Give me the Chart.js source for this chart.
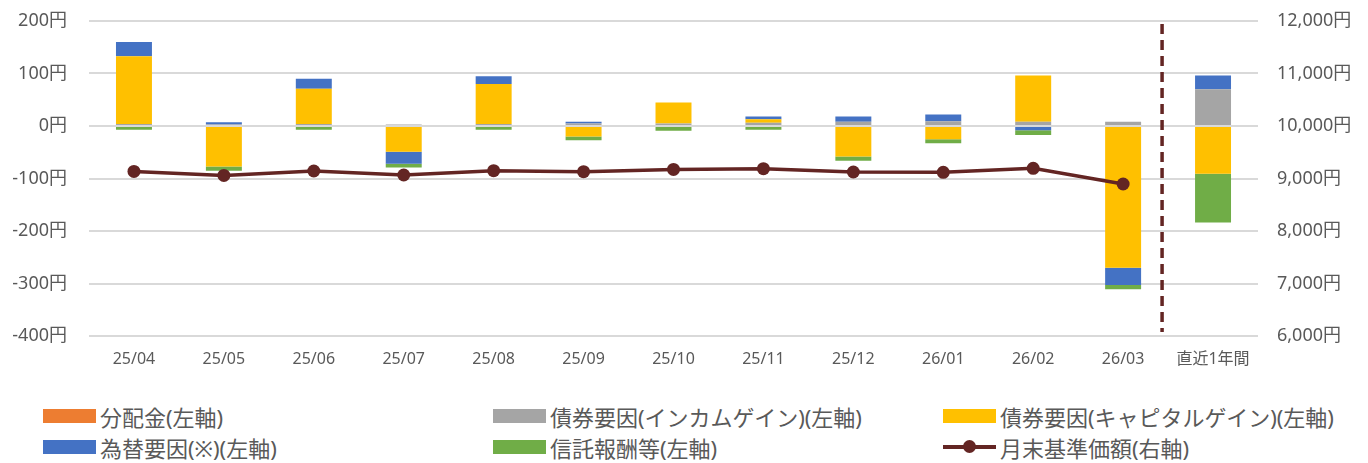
<!DOCTYPE html>
<html>
<head>
<meta charset="utf-8">
<script src="https://cdn.jsdelivr.net/npm/chart.js@4/dist/chart.umd.min.js"></script>
<style>
  body { margin: 0; background: #fff; }
  #wrap { position: relative; width: 1368px; height: 463px; }
  #c { position: absolute; left: 0; top: 0; }
  .item { position: absolute; display: flex; align-items: center; height: 30px;
          font-family: "Noto Sans", "Noto Sans CJK JP", sans-serif; font-size: 22px; color: #595959; }
  .box { width: 53px; height: 14px; margin-right: 4px; }
  .lineMark { position: relative; width: 53px; height: 14px; margin-right: 4px; }
  .lineMark:before { content: ""; position: absolute; left: 0; right: 0; top: 5px; height: 4px; background: #632523; }
  .lineMark:after { content: ""; position: absolute; left: 20px; top: 0; width: 13px; height: 13px; border-radius: 50%; background: #632523; }
</style>
</head>
<body>
<div id="wrap">
  <canvas id="c" width="1368" height="372"></canvas>
  <div id="legend"></div>
</div>
<script>
// categories and values (yen)
const categories = ['25/04', '25/05', '25/06', '25/07', '25/08', '25/09', '25/10', '25/11', '25/12', '26/01', '26/02', '26/03', '直近1年間'];
const distribution = [0, 0, 0, 0, 0, 0, 0, 0, 0, 0, 0, 0, 0];            // 分配金
const incomeGain = [4, 3, 4, 3, 4, 5, 5, 6, 8, 9, 8, 8, 70];               // インカムゲイン
const capitalGain = [129, -77, 67, -49, 76, -20, 40, 7, -58, -25, 88, -270, -91]; // キャピタルゲイン
const fxFactor = [27, 4, 19, -23, 15, 3, 0, 5, 10, 13, -8, -33, 26];       // 為替要因
const trustFee = [-7, -8, -7, -7, -7, -7, -9, -7, -8, -8, -9, -8, -93];    // 信託報酬等
const navMonthEnd = [9135, 9059, 9143, 9067, 9149, 9130, 9173, 9187, 9124, 9118, 9194, 8895, null]; // 月末基準価額

// axis ranges
const leftMin = -400, leftMax = 200, leftStep = 100;
const rightMin = 6000, rightMax = 12000, rightStep = 1000;

const textColor = '#595959';
const gridColor = '#D9D9D9';
const fontFamily = '"Noto Sans", "Noto Sans CJK JP", sans-serif';

// legend entries
const legendItems = [
    { label: '分配金(左軸)', color: '#ED7D31' },
    { label: '債券要因(インカムゲイン)(左軸)', color: '#A5A5A5' },
    { label: '債券要因(キャピタルゲイン)(左軸)', color: '#FFC000' },
    { label: '為替要因(※)(左軸)', color: '#4472C4' },
    { label: '信託報酬等(左軸)', color: '#70AD47' },
    { label: '月末基準価額(右軸)', color: '#632523', line: true }
];

// Build legend (3 columns x 2 rows)
const legendEl = document.getElementById('legend');
const colX = [43, 493, 943];
const rowY = [401, 432];
legendItems.forEach(function (it, i) {
    const div = document.createElement('div');
    div.className = 'item';
    div.style.left = colX[i % 3] + 'px';
    div.style.top = rowY[Math.floor(i / 3)] + 'px';
    const mark = document.createElement('span');
    if (it.line) {
        mark.className = 'lineMark';
    } else {
        mark.className = 'box';
        mark.style.background = it.color;
    }
    div.appendChild(mark);
    const txt = document.createElement('span');
    txt.textContent = it.label;
    div.appendChild(txt);
    legendEl.appendChild(div);
});

// dashed separator before the last category
const separator = {
    id: 'separator',
    afterDatasetsDraw(chart) {
        const x = chart.scales.x;
        const area = chart.chartArea;
        const px = (x.getPixelForValue(11) + x.getPixelForValue(12)) / 2 - 6;
        const ctx = chart.ctx;
        ctx.save();
        ctx.strokeStyle = '#632523';
        ctx.lineWidth = 3.5;
        ctx.setLineDash([10, 6]);
        ctx.beginPath();
        ctx.moveTo(px, area.top + 3);
        ctx.lineTo(px, area.bottom - 4);
        ctx.stroke();
        ctx.restore();
    }
};

function barSet(label, data, color) {
    return {
        type: 'bar',
        label: label,
        data: data,
        backgroundColor: color,
        yAxisID: 'y',
        order: 1,
        categoryPercentage: 1.0,
        barPercentage: 0.4
    };
}

const ctx = document.getElementById('c').getContext('2d');
const chart = new Chart(ctx, {
    data: {
        labels: categories,
        datasets: [
            barSet(legendItems[0].label, distribution, legendItems[0].color),
            barSet(legendItems[1].label, incomeGain, legendItems[1].color),
            barSet(legendItems[2].label, capitalGain, legendItems[2].color),
            barSet(legendItems[3].label, fxFactor, legendItems[3].color),
            barSet(legendItems[4].label, trustFee, legendItems[4].color),
            {
                type: 'line',
                label: legendItems[5].label,
                data: navMonthEnd,
                yAxisID: 'y1',
                order: 0,
                borderColor: '#632523',
                backgroundColor: '#632523',
                borderWidth: 3.5,
                pointRadius: 6.5,
                pointHoverRadius: 6.5,
                pointBorderWidth: 0,
                tension: 0
            }
        ]
    },
    options: {
        responsive: false,
        animation: false,
        layout: { padding: { top: 21, right: 0, left: 0, bottom: 0 } },
        plugins: {
            legend: { display: false },
            tooltip: { enabled: false }
        },
        scales: {
            x: {
                stacked: true,
                grid: { display: false },
                border: { display: false },
                ticks: { color: textColor, font: { family: fontFamily, size: 16 }, padding: 6, maxRotation: 0 },
                afterFit(scale) { scale.height = 36; }
            },
            y: {
                stacked: true,
                position: 'left',
                min: leftMin,
                max: leftMax,
                // invisible tick marks give the gap between labels and plot
                grid: { color: gridColor, lineWidth: 2, drawTicks: true, tickLength: 22, tickColor: 'transparent' },
                border: { display: false },
                ticks: {
                    stepSize: leftStep,
                    color: textColor,
                    font: { family: fontFamily, size: 18 },
                    padding: 0,
                    callback: function (v) { return v + '円'; }
                },
                afterFit(scale) { scale.width = 89; }
            },
            y1: {
                stacked: false,
                position: 'right',
                min: rightMin,
                max: rightMax,
                grid: { display: false, drawOnChartArea: false, drawTicks: true, tickLength: 19, tickColor: 'transparent' },
                border: { display: false },
                ticks: {
                    stepSize: rightStep,
                    color: textColor,
                    font: { family: fontFamily, size: 18 },
                    padding: 0,
                    callback: function (v) { return v.toLocaleString('en-US') + '円'; }
                },
                afterFit(scale) { scale.width = 110; }
            }
        }
    },
    plugins: [separator]
});
</script>
</body>
</html>
